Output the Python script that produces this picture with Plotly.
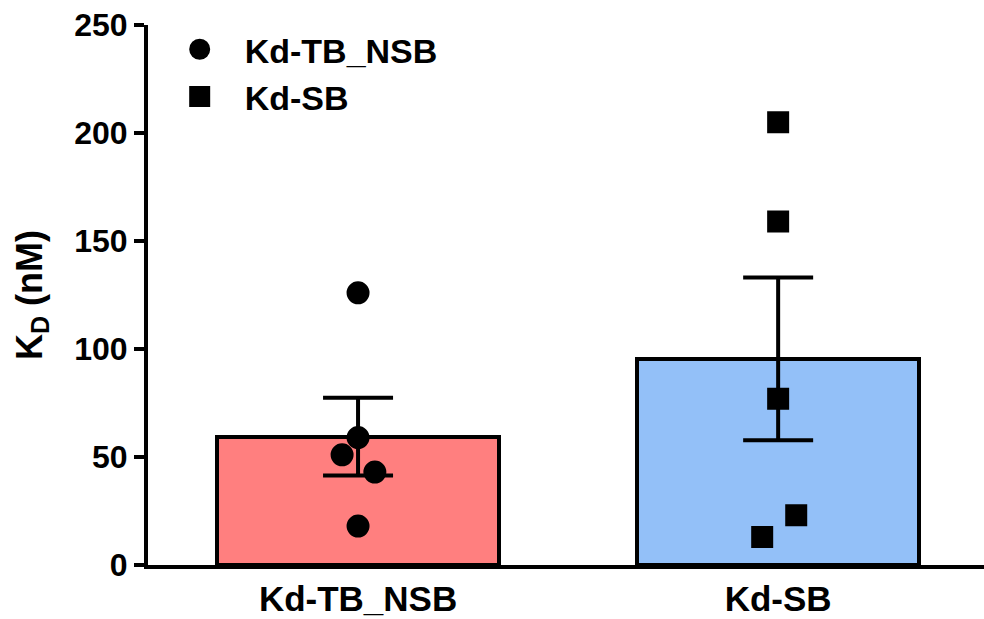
import numpy as np
import plotly.graph_objects as go

# ---- data ----
categories = ["Kd-TB_NSB", "Kd-SB"]
tb_values = [126, 59, 51, 43, 18]
sb_values = [205, 159, 77, 23, 13]
tb_jitter = [0, 0, -0.038, 0.040, 0]
sb_jitter = [0, 0, 0, 0.043, -0.038]
y_ticks = [0, 50, 100, 150, 200, 250]
bar_colors = ["#FF7F7F", "#93C0F8"]

groups = [tb_values, sb_values]
means = [float(np.mean(v)) for v in groups]
sems = [float(np.std(v, ddof=1) / np.sqrt(len(v))) for v in groups]
xpos = list(range(len(categories)))

FONT = "Liberation Sans, Arial, sans-serif"

fig = go.Figure()
fig.add_trace(go.Bar(
    x=xpos, y=means, width=0.671,
    marker=dict(color=bar_colors, line=dict(color="black", width=4)),
    error_y=dict(type="data", array=sems, visible=True, color="black",
                 thickness=4, width=35),
    showlegend=False, hoverinfo="skip"))

fig.add_trace(go.Scatter(
    x=[xpos[0] + j for j in tb_jitter], y=tb_values, mode="markers",
    name=categories[0],
    marker=dict(symbol="circle", size=18, color="black",
                line=dict(color="black", width=5))))
fig.add_trace(go.Scatter(
    x=[xpos[1] + j for j in sb_jitter], y=sb_values, mode="markers",
    name=categories[1],
    marker=dict(symbol="square", size=17, color="black",
                line=dict(color="black", width=5))))

fig.update_layout(
    width=984, height=619,
    margin=dict(l=148, r=0, t=25, b=54),
    plot_bgcolor="white", paper_bgcolor="white",
    font=dict(family=FONT, color="black", weight="bold"),
    xaxis=dict(range=[-0.5, 1.49], tickvals=xpos, ticktext=categories,
               showline=True, linewidth=4, linecolor="black", ticks="",
               showgrid=False, zeroline=False,
               tickfont=dict(size=35, family=FONT, weight="bold")),
    yaxis=dict(range=[0, 250], tickvals=y_ticks, ticks="outside",
               ticklen=10, tickwidth=4, tickcolor="black",
               showline=True, linewidth=4, linecolor="black",
               showgrid=False, zeroline=False,
               tickfont=dict(size=32, family=FONT, weight="bold"),
               title=dict(text="K<sub>D</sub> (nM)", standoff=22,
                          font=dict(size=36, family=FONT, weight="bold"))),
    legend=dict(x=0.008, y=1.008, xanchor="left", yanchor="top",
                bgcolor="rgba(0,0,0,0)", itemwidth=80,
                font=dict(size=34, family=FONT, weight="bold"),
                tracegroupgap=0),
    bargap=0,
)

fig.write_html("out.html")
